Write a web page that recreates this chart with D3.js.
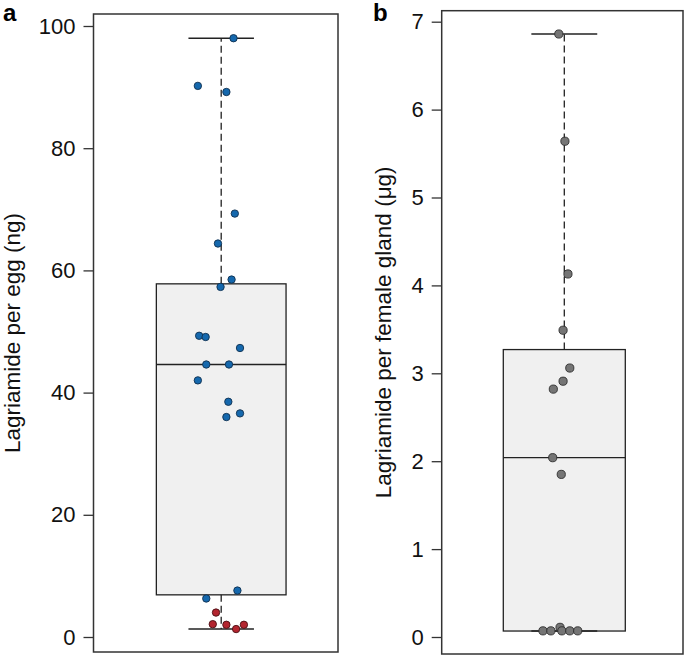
<!DOCTYPE html>
<html>
<head>
<meta charset="utf-8">
<script src="https://cdn.jsdelivr.net/npm/d3@7"></script>
<style>
  html, body { margin: 0; padding: 0; background: #fff; }
  svg { display: block; font-family: "Liberation Sans", Arial, Helvetica, sans-serif; }
</style>
</head>
<body>
<svg id="chart" width="685" height="656"></svg>
<script>
// ---------- Data ----------
// Panel a: lagriamide per egg (ng)
const eggBlueValues  = [98.0, 90.2, 89.2, 69.3, 64.4, 58.5, 57.3, 49.3, 49.1, 47.3, 44.6, 44.6, 42.0, 38.5, 36.0, 36.6, 7.6, 6.3];
const eggBlueJitter  = [0.19, -0.36, 0.08, 0.21, -0.05, 0.16, -0.01, -0.34, -0.24, 0.29, -0.23, 0.12, -0.36, 0.11, 0.08, 0.29, 0.25, -0.23];
const eggRedValues   = [4.0, 2.1, 2.0, 1.3, 2.0];
const eggRedJitter   = [-0.08, -0.13, 0.08, 0.23, 0.35];
const eggBoxStats    = { whiskerLow: 1.3, q1: 6.9, median: 44.6, q3: 57.8, whiskerHigh: 98.0 };
const eggTicks       = [0, 20, 40, 60, 80, 100];

// Panel b: lagriamide per female gland (µg)
const glandValues    = [6.86, 5.64, 4.13, 3.49, 3.06, 2.91, 2.82, 2.04, 1.85, 0.07, 0.07, 0.11, 0.07, 0.07, 0.07];
const glandJitter    = [-0.09, 0.01, 0.06, -0.02, 0.09, -0.02, -0.18, -0.19, -0.05, -0.35, -0.22, -0.07, -0.04, 0.09, 0.22];
const glandBoxStats  = { whiskerLow: 0.068, q1: 0.068, median: 2.04, q3: 3.27, whiskerHigh: 6.86 };
const glandTicks     = [0, 1, 2, 3, 4, 5, 6, 7];

// ---------- Drawing ----------
const svg = d3.select("#chart");

function panel(cfg) {
  const g = svg.append("g");
  const y = d3.scaleLinear().domain(cfg.yDomain).range([cfg.y0, cfg.yTop]);
  const x = d3.scaleLinear().domain([-1, 1]).range([cfg.boxCenter - cfg.boxHalf, cfg.boxCenter + cfg.boxHalf]);
  const s = cfg.stats;

  // box
  g.append("rect")
    .attr("x", x(-1)).attr("width", x(1) - x(-1))
    .attr("y", y(s.q3)).attr("height", y(s.q1) - y(s.q3))
    .attr("fill", "#f0f0f0").attr("stroke", "#222").attr("stroke-width", 1.3);
  // median
  g.append("line")
    .attr("x1", x(-1)).attr("x2", x(1))
    .attr("y1", y(s.median)).attr("y2", y(s.median))
    .attr("stroke", "#222").attr("stroke-width", 1.3);
  // whiskers (dashed)
  [[s.q3, s.whiskerHigh], [s.q1, s.whiskerLow]].forEach(([a, b]) => {
    g.append("line")
      .attr("x1", x(0)).attr("x2", x(0))
      .attr("y1", y(a)).attr("y2", y(b))
      .attr("stroke", "#222").attr("stroke-width", 1.3)
      .attr("stroke-dasharray", "7,4");
  });
  // whisker caps
  [s.whiskerHigh, s.whiskerLow].forEach(v => {
    g.append("line")
      .attr("x1", x(-cfg.capHalf)).attr("x2", x(cfg.capHalf))
      .attr("y1", y(v)).attr("y2", y(v))
      .attr("stroke", "#222").attr("stroke-width", 1.6);
  });

  // points
  cfg.series.forEach(ser => {
    g.selectAll(null)
      .data(ser.values.map((v, i) => ({ v, j: ser.jitter[i] })))
      .enter().append("circle")
      .attr("cx", d => x(d.j))
      .attr("cy", d => y(d.v))
      .attr("r", cfg.r)
      .attr("fill", ser.color)
      .attr("stroke", ser.stroke)
      .attr("stroke-width", 0.9);
  });

  // frame
  g.append("rect")
    .attr("x", cfg.frame[0]).attr("y", cfg.frame[1])
    .attr("width", cfg.frame[2] - cfg.frame[0]).attr("height", cfg.frame[3] - cfg.frame[1])
    .attr("fill", "none").attr("stroke", "#333").attr("stroke-width", 1.5);

  // y axis
  const ax = g.append("g")
    .attr("transform", `translate(${cfg.frame[0]},0)`)
    .call(d3.axisLeft(y).tickValues(cfg.ticks).tickFormat(d3.format("d")).tickSize(10).tickSizeOuter(0).tickPadding(8));
  ax.select(".domain").remove();
  ax.selectAll(".tick line").attr("stroke", "#333").attr("stroke-width", 1.3);
  ax.selectAll(".tick text")
    .attr("fill", "#111")
    .style("font-size", "22px")
    .style("font-family", "'Liberation Sans', Arial, sans-serif");

  // y label
  g.append("text")
    .attr("transform", `translate(${cfg.labelX},${(cfg.frame[1] + cfg.frame[3]) / 2}) rotate(-90)`)
    .attr("text-anchor", "middle")
    .attr("fill", "#111")
    .style("font-size", "22.5px")
    .text(cfg.label);

  // panel letter
  g.append("text")
    .attr("x", cfg.letterX).attr("y", 21)
    .attr("fill", "#000")
    .style("font-size", "24px").style("font-weight", "bold")
    .text(cfg.letter);
}

panel({
  letter: "a", letterX: 3,
  label: "Lagriamide per egg (ng)", labelX: 20,
  yDomain: [0, 100], y0: 637, yTop: 26,
  frame: [93.5, 14, 338, 652],
  boxCenter: 221.2, boxHalf: 64.85, capHalf: 0.505,
  stats: eggBoxStats, ticks: eggTicks, r: 3.7,
  series: [
    { values: eggBlueValues, jitter: eggBlueJitter, color: "#1568ad", stroke: "#10304f" },
    { values: eggRedValues, jitter: eggRedJitter, color: "#b3252f", stroke: "#4a1014" }
  ]
});

panel({
  letter: "b", letterX: 373,
  label: "Lagriamide per female gland (\u03bcg)", labelX: 391,
  yDomain: [0, 7], y0: 637, yTop: 21.7,
  frame: [441.7, 10.7, 683, 654],
  boxCenter: 564.3, boxHalf: 61, capHalf: 0.54,
  stats: glandBoxStats, ticks: glandTicks, r: 4.1,
  series: [
    { values: glandValues, jitter: glandJitter, color: "#757575", stroke: "#2e2e2e" }
  ]
});
</script>
</body>
</html>
